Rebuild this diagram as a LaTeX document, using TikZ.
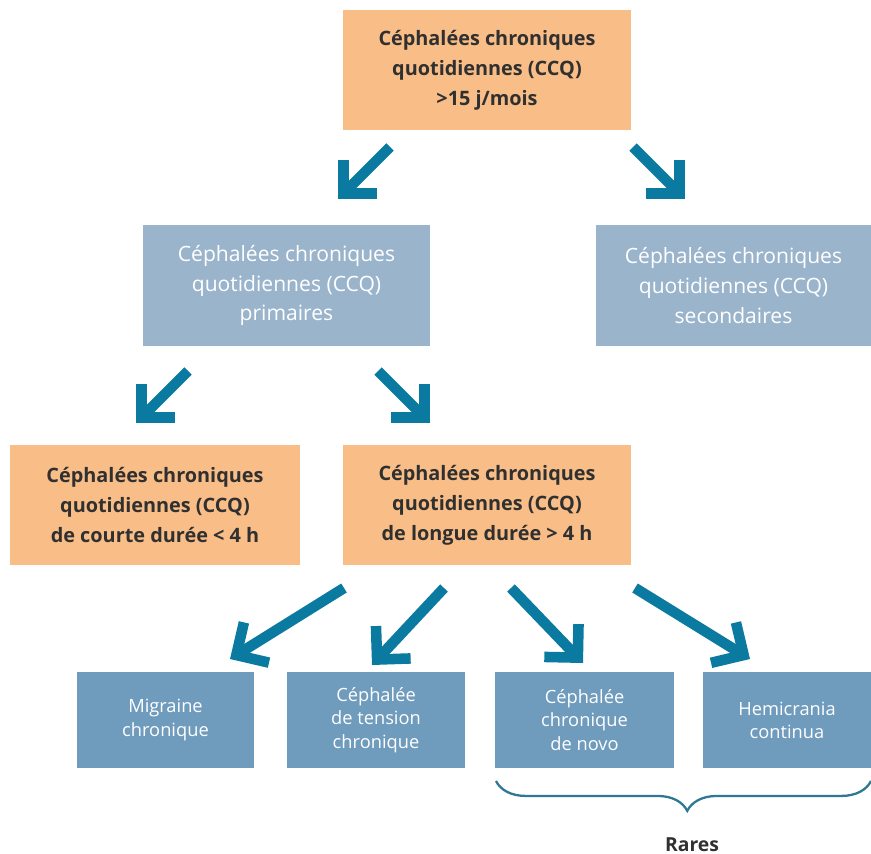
\documentclass[tikz,border=0pt]{standalone}
\usepackage{fontspec}
\setmainfont{Open Sans}
\usetikzlibrary{arrows.meta,decorations.pathreplacing}
\definecolor{ccqorange}{HTML}{F9BE87}
\definecolor{ccqgrey}{HTML}{9AB4CC}
\definecolor{ccqblue}{HTML}{6F9BBD}
\definecolor{ccqarrow}{HTML}{0A7AA0}
\definecolor{ccqbrace}{HTML}{2E7896}
\definecolor{ccqtext}{HTML}{303030}
\begin{document}
\begin{tikzpicture}[x=0.02cm, y=-0.02cm,
  obox/.style={fill=ccqorange, text=ccqtext, align=center, inner sep=0pt,
    font=\bfseries\fontsize{11.3}{17}\selectfont, minimum height=2.4cm},
  gbox/.style={fill=ccqgrey, text=white, align=center, inner sep=0pt,
    font=\fontsize{12}{17}\selectfont, minimum height=2.42cm},
  bbox/.style={fill=ccqblue, text=white, align=center, inner sep=0pt,
    font=\fontsize{10.4}{13.2}\selectfont, minimum height=1.92cm},
  arr/.style={ccqarrow, line width=6pt,
    -{Straight Barb[length=13.5pt, width=27pt, sharp]}}]
\useasboundingbox (0,0) rectangle (871,854);
% boxes
\node[obox, minimum width=5.76cm] (ccq) at (487,70)
  {Céphalées chroniques\\quotidiennes (CCQ)\\>15 j/mois};
\node[gbox, minimum width=5.74cm] (prim) at (286.5,285.5)
  {Céphalées chroniques\\quotidiennes (CCQ)\\primaires};
\node[gbox, minimum width=5.5cm] (sec) at (733.5,285.5)
  {Céphalées chroniques\\quotidiennes (CCQ)\\secondaires};
\node[obox, minimum width=5.8cm] (courte) at (155,505)
  {Céphalées chroniques\\quotidiennes (CCQ)\\de courte durée < 4 h};
\node[obox, minimum width=5.76cm] (longue) at (487,505)
  {Céphalées chroniques\\quotidiennes (CCQ)\\de longue durée > 4 h};
\node[bbox, minimum width=3.54cm] (migr) at (165.5,720)
  {Migraine\\chronique};
\node[bbox, minimum width=3.56cm] (tens) at (376,720)
  {Céphalée\\de tension\\chronique};
\node[bbox, minimum width=3.58cm] (novo) at (584.5,720)
  {Céphalée\\chronique\\de novo};
\node[bbox, minimum width=3.36cm] (hemi) at (787,720)
  {Hemicrania\\continua};
% arrow ends
\coordinate (a1) at (390,147);  \coordinate (a1t) at (338,199);
\coordinate (a2) at (633,147);  \coordinate (a2t) at (685,199);
\coordinate (b1) at (188,371);  \coordinate (b1t) at (136,423);
\coordinate (b2) at (378,371);  \coordinate (b2t) at (430,423);
\coordinate (c1) at (344,588);  \coordinate (c1t) at (230,659);
\coordinate (c2) at (444,588);  \coordinate (c2t) at (372,665);
\coordinate (c3) at (511,588);  \coordinate (c3t) at (583,663);
\coordinate (c4) at (635,588);  \coordinate (c4t) at (750,659);
\draw[arr] (a1) -- (a1t);
\draw[arr] (a2) -- (a2t);
\draw[arr] (b1) -- (b1t);
\draw[arr] (b2) -- (b2t);
\draw[arr] (c1) -- (c1t);
\draw[arr] (c2) -- (c2t);
\draw[arr] (c3) -- (c3t);
\draw[arr] (c4) -- (c4t);
% brace
\coordinate (br1) at (496,781);
\coordinate (br2) at (871,781);
\draw[ccqbrace, line width=1.3pt, decorate,
  decoration={brace, mirror, amplitude=17pt, aspect=0.51}] (br1) -- (br2);
\node[text=ccqtext, font=\bfseries\fontsize{11}{13}\selectfont] (rares) at (692,845) {Rares};
\end{tikzpicture}
\end{document}
